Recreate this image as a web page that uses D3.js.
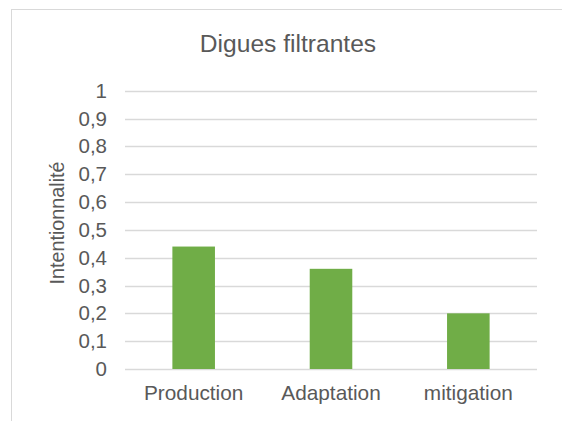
<!DOCTYPE html>
<html lang="fr">
<head>
<meta charset="UTF-8">
<title>Digues filtrantes</title>
<script src="https://d3js.org/d3.v7.min.js"></script>
<style>
  body { margin: 0; background: #fff; }
  svg { display: block; font-family: "Liberation Sans", Arial, sans-serif; }
</style>
</head>
<body>
<svg width="562" height="421"></svg>
<script>
const title = "Digues filtrantes";
const yAxisName = "Intentionnalité";
const categories = ["Production", "Adaptation", "mitigation"];
const values = [0.44, 0.36, 0.2];
const yTicks = [0, 0.1, 0.2, 0.3, 0.4, 0.5, 0.6, 0.7, 0.8, 0.9, 1];

const svg = d3.select("svg");
const textColor = "#595959";

// chart frame (extends off the picture on right and bottom)
svg.append("rect")
  .attr("x", 11.5).attr("y", 9.5)
  .attr("width", 620).attr("height", 500)
  .attr("fill", "none").attr("stroke", "#d9d9d9");

const plotLeft = 125, plotRight = 537, plotTop = 90.7, plotBottom = 369;

const x = d3.scaleBand().domain(categories).range([plotLeft, plotRight])
  .paddingInner(0.69).paddingOuter(0.345);
const y = d3.scaleLinear().domain([0, 1]).range([plotBottom, plotTop]);

// gridlines
svg.append("g")
  .selectAll("line")
  .data(yTicks)
  .join("line")
  .attr("x1", plotLeft).attr("x2", plotRight)
  .attr("y1", d => Math.round(y(d)) + 0.5)
  .attr("y2", d => Math.round(y(d)) + 0.5)
  .attr("stroke", "#d9d9d9").attr("stroke-width", 1.3);

// bars
svg.append("g")
  .selectAll("rect")
  .data(values)
  .join("rect")
  .attr("x", (d, i) => x(categories[i]))
  .attr("y", d => y(d))
  .attr("width", x.bandwidth())
  .attr("height", d => y(0) - y(d))
  .attr("fill", "#70ad47");

// y axis labels
const yAxis = svg.append("g")
  .attr("transform", "translate(" + (plotLeft - 18) + ",0)")
  .call(d3.axisLeft(y).tickValues(yTicks).tickSize(0).tickPadding(0)
    .tickFormat(d => d3.format("~g")(d).replace(".", ",")));
yAxis.select(".domain").remove();
yAxis.selectAll("text")
  .attr("fill", textColor)
  .style("font-size", "20.5px");

// x axis labels
const xAxis = svg.append("g")
  .attr("transform", "translate(0," + plotBottom + ")")
  .call(d3.axisBottom(x).tickSize(0).tickPadding(16));
xAxis.select(".domain").remove();
xAxis.selectAll("text")
  .attr("fill", textColor)
  .style("font-size", "20.8px");

// axis title
svg.append("text")
  .attr("transform", "translate(64," + 223 + ") rotate(-90)")
  .attr("text-anchor", "middle")
  .attr("fill", textColor)
  .style("font-size", "19.8px")
  .text(yAxisName);

// chart title
svg.append("text")
  .attr("x", 288).attr("y", 52)
  .attr("text-anchor", "middle")
  .attr("fill", textColor)
  .style("font-size", "24.6px")
  .text(title);
</script>
</body>
</html>
